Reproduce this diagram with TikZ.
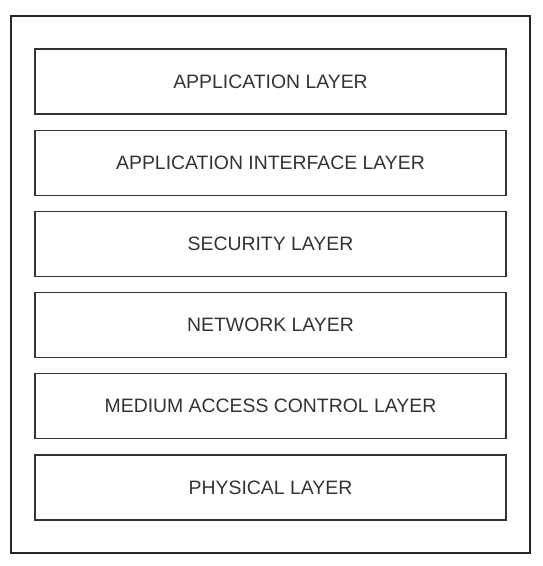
\documentclass[tikz,border=0pt]{standalone}
\usepackage{fontspec}
\setmainfont{Liberation Sans}
\usepackage{tikz}
\usepackage{xcolor}
\definecolor{linegray}{HTML}{333333}
\definecolor{textgray}{HTML}{333333}
\tikzset{
  layerbox/.style={draw=linegray, line width=1.3pt, minimum width=471pt, minimum height=65pt,
    inner sep=0pt, text=textgray, font=\fontsize{19.4}{22}\selectfont},
  outerbox/.style={draw=black!85, line width=1.5pt}
}
\begin{document}
\begin{tikzpicture}[x=1pt,y=-1pt]
  \useasboundingbox (0,0) rectangle (542,566);
  \draw[outerbox] (11,16) rectangle (530,553);
  \foreach \name/\txt [count=\i] in {app/APPLICATION LAYER,
      api/APPLICATION INTERFACE LAYER,
      sec/SECURITY LAYER,
      net/NETWORK LAYER,
      mac/MEDIUM ACCESS CONTROL LAYER,
      phy/PHYSICAL LAYER}
  {
    \node[layerbox] (\name) at (270.5,81.5+81.2*\i-81.2) {\txt};
  }
\end{tikzpicture}
\end{document}
